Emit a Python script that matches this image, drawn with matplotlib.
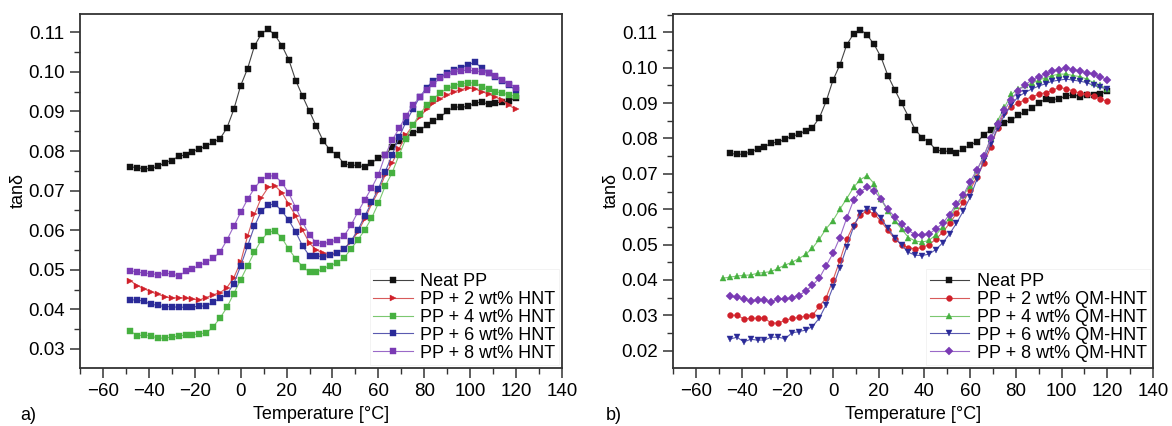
import numpy as np
import matplotlib
matplotlib.use("Agg")
import matplotlib.pyplot as plt
from matplotlib.ticker import MultipleLocator

plt.rcParams['font.family'] = ['Liberation Sans', 'DejaVu Sans']

nan = np.nan
temperature = list(range(-48, 121, 3))

neat_pp = [0.0760, 0.0758, 0.0755, 0.0756, 0.0762, 0.0770, 0.0776, 0.0787, 0.0790, 0.0798,
           0.0806, 0.0812, 0.0822, 0.0831, 0.0858, 0.0905, 0.0965, 0.1008, 0.1065, 0.1096,
           0.1108, 0.1092, 0.1066, 0.1030, 0.0978, 0.0938, 0.0900, 0.0862, 0.0825, 0.0802,
           0.0790, 0.0768, 0.0764, 0.0764, 0.0760, 0.0770, 0.0782, 0.0790, 0.0810, 0.0825,
           0.0836, 0.0845, 0.0852, 0.0865, 0.0875, 0.0886, 0.0900, 0.0912, 0.0910, 0.0913,
           0.0920, 0.0924, 0.0918, 0.0922, 0.0923, 0.0926, 0.0935]

hnt_2 = [0.0472, 0.0460, 0.0452, 0.0444, 0.0438, 0.0432, 0.0428, 0.0430, 0.0428, 0.0426,
         0.0424, 0.0430, 0.0437, 0.0442, 0.0455, 0.0480, 0.0520, 0.0585, 0.0640, 0.0682,
         0.0708, 0.0712, 0.0695, 0.0665, 0.0636, 0.0600, 0.0567, 0.0550, 0.0542, 0.0538,
         0.0543, 0.0553, 0.0570, 0.0595, 0.0628, 0.0665, 0.0698, 0.0740, 0.0770, 0.0805,
         0.0840, 0.0865, 0.0886, 0.0905, 0.0920, 0.0932, 0.0942, 0.0950, 0.0955, 0.0960,
         0.0957, 0.0950, 0.0944, 0.0936, 0.0928, 0.0915, 0.0905]

hnt_4 = [0.0345, 0.0333, 0.0336, 0.0333, 0.0327, 0.0328, 0.0330, 0.0332, 0.0336, 0.0336,
         0.0339, 0.0340, 0.0356, 0.0378, 0.0405, 0.0440, 0.0475, 0.0510, 0.0545, 0.0575,
         0.0595, 0.0598, 0.0580, 0.0552, 0.0528, 0.0508, 0.0494, 0.0494, 0.0503, 0.0510,
         0.0518, 0.0530, 0.0552, 0.0575, 0.0600, 0.0630, 0.0668, 0.0712, 0.0745, 0.0790,
         0.0831, 0.0865, 0.0894, 0.0915, 0.0932, 0.0947, 0.0958, 0.0965, 0.0970, 0.0972,
         0.0972, 0.0962, 0.0956, 0.0950, 0.0946, 0.0942, 0.0938]

hnt_6 = [0.0424, 0.0424, 0.0420, 0.0413, 0.0410, 0.0407, 0.0407, 0.0405, 0.0406, 0.0406,
         0.0408, 0.0409, 0.0418, 0.0428, 0.0438, 0.0465, 0.0510, 0.0560, 0.0610, 0.0648,
         0.0664, 0.0666, 0.0648, 0.0625, 0.0595, 0.0560, 0.0535, 0.0535, 0.0533, 0.0537,
         0.0542, 0.0552, 0.0572, 0.0600, 0.0635, 0.0670, 0.0705, 0.0748, 0.0790, 0.0835,
         0.0873, 0.0905, 0.0936, 0.0960, 0.0978, 0.0988, 0.0996, 0.1004, 0.1010, 0.1018,
         0.1024, 0.1010, 0.0996, 0.0988, 0.0978, 0.0966, 0.0953]

hnt_8 = [0.0498, 0.0494, 0.0492, 0.0490, 0.0488, 0.0491, 0.0490, 0.0484, 0.0496, 0.0502,
         0.0511, 0.0520, 0.0529, 0.0545, 0.0575, 0.0610, 0.0645, 0.0678, 0.0706, 0.0728,
         0.0737, 0.0737, 0.0720, 0.0693, 0.0657, 0.0620, 0.0588, 0.0568, 0.0566, 0.0570,
         0.0576, 0.0585, 0.0612, 0.0645, 0.0676, 0.0706, 0.0740, 0.0790, 0.0827, 0.0857,
         0.0888, 0.0915, 0.0936, 0.0955, 0.0970, 0.0984, 0.0992, 0.1000, 0.1003, 0.1004,
         0.1002, 0.0999, 0.0997, 0.0990, 0.0980, 0.0970, 0.0960]

qm_2 = [nan, 0.0300, 0.0300, 0.0290, 0.0291, 0.0292, 0.0292, 0.0278, 0.0278, 0.0286,
        0.0291, 0.0294, 0.0297, 0.0300, 0.0325, 0.0350, 0.0400, 0.0455, 0.0515, 0.0555,
        0.0583, 0.0596, 0.0586, 0.0566, 0.0540, 0.0516, 0.0500, 0.0491, 0.0488, 0.0492,
        0.0500, 0.0515, 0.0535, 0.0560, 0.0588, 0.0620, 0.0655, 0.0692, 0.0730, 0.0775,
        0.0830, 0.0876, 0.0890, 0.0900, 0.0910, 0.0918, 0.0925, 0.0930, 0.0936, 0.0945,
        0.0940, 0.0935, 0.0928, 0.0925, 0.0920, 0.0912, 0.0905]

qm_4 = [0.0405, 0.0408, 0.0411, 0.0413, 0.0414, 0.0419, 0.0421, 0.0424, 0.0433, 0.0442,
        0.0450, 0.0460, 0.0472, 0.0490, 0.0515, 0.0545, 0.0568, 0.0600, 0.0630, 0.0662,
        0.0684, 0.0695, 0.0672, 0.0628, 0.0595, 0.0568, 0.0544, 0.0520, 0.0510, 0.0507,
        0.0512, 0.0527, 0.0550, 0.0576, 0.0608, 0.0640, 0.0665, 0.0710, 0.0750, 0.0800,
        0.0850, 0.0888, 0.0925, 0.0940, 0.0950, 0.0956, 0.0965, 0.0972, 0.0978, 0.0982,
        0.0982, 0.0978, 0.0975, 0.0968, 0.0958, 0.0950, 0.0940]

qm_6 = [nan, 0.0233, 0.0238, 0.0225, 0.0232, 0.0230, 0.0230, 0.0238, 0.0238, 0.0234,
        0.0250, 0.0254, 0.0258, 0.0268, 0.0292, 0.0330, 0.0380, 0.0435, 0.0493, 0.0550,
        0.0590, 0.0602, 0.0598, 0.0574, 0.0546, 0.0520, 0.0498, 0.0478, 0.0470, 0.0469,
        0.0473, 0.0486, 0.0505, 0.0530, 0.0560, 0.0595, 0.0634, 0.0685, 0.0740, 0.0785,
        0.0830, 0.0865, 0.0895, 0.0918, 0.0930, 0.0940, 0.0948, 0.0955, 0.0962, 0.0965,
        0.0968, 0.0965, 0.0962, 0.0958, 0.0950, 0.0945, 0.0940]

qm_8 = [nan, 0.0354, 0.0351, 0.0345, 0.0340, 0.0342, 0.0342, 0.0338, 0.0346, 0.0345,
        0.0350, 0.0356, 0.0368, 0.0385, 0.0405, 0.0440, 0.0475, 0.0520, 0.0575, 0.0625,
        0.0650, 0.0662, 0.0652, 0.0628, 0.0600, 0.0578, 0.0558, 0.0540, 0.0528, 0.0526,
        0.0530, 0.0544, 0.0560, 0.0585, 0.0615, 0.0640, 0.0678, 0.0712, 0.0750, 0.0800,
        0.0840, 0.0880, 0.0910, 0.0935, 0.0952, 0.0965, 0.0975, 0.0983, 0.0990, 0.0995,
        0.0999, 0.0995, 0.0990, 0.0986, 0.0982, 0.0975, 0.0966]

labels_a = ["Neat PP", "PP + 2 wt% HNT", "PP + 4 wt% HNT", "PP + 6 wt% HNT", "PP + 8 wt% HNT"]
labels_b = ["Neat PP", "PP + 2 wt% QM-HNT", "PP + 4 wt% QM-HNT", "PP + 6 wt% QM-HNT", "PP + 8 wt% QM-HNT"]

marker_colors = ["#111111", "#d0202a", "#46b040", "#2a2a98", "#7a3ab4"]
line_colors = ["#444444", "#d85a5a", "#7cc870", "#5a5ab0", "#9a6ac8"]
markers_a = ["s", ">", "s", "s", "s"]
markers_b = ["s", "o", "^", "v", "D"]
msize_a = [3.8, 4.4, 3.8, 3.8, 3.8]
msize_b = [3.8, 4.2, 4.6, 4.6, 3.8]

fig = plt.figure(figsize=(11.72, 4.26), dpi=100)
W, H = 1172, 426
ax1 = fig.add_axes([80 / W, 58 / H, 482 / W, 354 / H])
ax2 = fig.add_axes([673 / W, 58 / H, 480 / W, 354 / H])

T = np.array(temperature)
series_a = [neat_pp, hnt_2, hnt_4, hnt_6, hnt_8]
series_b = [neat_pp, qm_2, qm_4, qm_6, qm_8]

for ax, series, labels, markers, msz in [(ax1, series_a, labels_a, markers_a, msize_a),
                                         (ax2, series_b, labels_b, markers_b, msize_b)]:
    for i, (vals, lab) in enumerate(zip(series, labels)):
        v = np.array(vals, dtype=float)
        t = T
        if ax is ax2 and i == 0:
            v = v[1:]
            t = T[1:]
        ax.plot(t, v, color=line_colors[i], lw=0.8, marker=markers[i], ms=msz[i],
                mfc=marker_colors[i], mec=marker_colors[i], mew=0.3, label=lab)
    ax.set_xlim(-70, 140)
    ax.xaxis.set_major_locator(MultipleLocator(20))
    ax.xaxis.set_minor_locator(MultipleLocator(10))
    ax.yaxis.set_major_locator(MultipleLocator(0.01))
    ax.yaxis.set_minor_locator(MultipleLocator(0.005))
    ax.tick_params(which='major', direction='out', length=7, width=1.1, labelsize=13.5,
                   color='#333333', pad=4, top=False, right=False)
    ax.tick_params(which='minor', direction='out', length=4, width=1.0, color='#333333',
                   top=False, right=False)
    for sp in ax.spines.values():
        sp.set_color('#333333')
        sp.set_linewidth(1.3)
    ax.set_xlabel("Temperature [°C]", fontsize=13, labelpad=4)
    ax.set_ylabel("tanδ", fontsize=13, labelpad=1)
    ax.xaxis.set_major_formatter(matplotlib.ticker.FuncFormatter(lambda x, p: f"{x:.0f}".replace("-", "\u2212")))
    leg = ax.legend(loc='lower right', fontsize=13, frameon=True, fancybox=False,
                    edgecolor='#eeeeee', labelspacing=0.05, handlelength=2.2,
                    handletextpad=0.4, borderpad=0.2, borderaxespad=0.15)
    leg.get_frame().set_linewidth(0.6)

ax1.set_ylim(0.0252, 0.1146)
ax2.set_ylim(0.0151, 0.1152)
ax1.yaxis.set_major_formatter(matplotlib.ticker.FormatStrFormatter('%.2f'))
ax2.yaxis.set_major_formatter(matplotlib.ticker.FormatStrFormatter('%.2f'))

fig.text(20 / W, 1 - 416 / H, "a)", fontsize=13, va='center', ha='left')
fig.text(606 / W, 1 - 416 / H, "b)", fontsize=13, va='center', ha='left')

fig.savefig("out.png", dpi=100)
